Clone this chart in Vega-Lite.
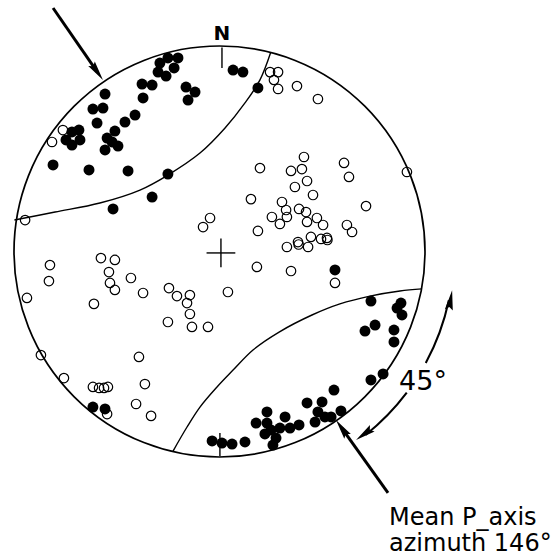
{
  "$schema": "https://vega.github.io/schema/vega-lite/v6.json",
  "autosize": "none",
  "width": 411,
  "height": 411,
  "padding": {"left": 14, "top": 46, "right": 133, "bottom": 101},
  "background": "white",
  "config": {"view": {"stroke": null}},
  "datasets": {
    "points": [
      {"u":-29.0,"v":91.7,"t":"P"},{"u":-25.1,"v":94.2,"t":"P"},{"u":-20.2,"v":94.2,"t":"P"},{"u":-22.1,"v":89.3,"t":"P"},{"u":-29.9,"v":87.3,"t":"P"},{"u":-26.0,"v":85.4,"t":"P"},
      {"u":6.6,"v":88.3,"t":"P"},{"u":11.4,"v":87.3,"t":"P"},{"u":18.7,"v":79.6,"t":"P"},{"u":-37.7,"v":81.5,"t":"P"},{"u":-32.8,"v":81.0,"t":"P"},{"u":-37.2,"v":74.7,"t":"P"},
      {"u":-16.3,"v":80.0,"t":"P"},{"u":-11.9,"v":77.6,"t":"P"},{"u":-15.3,"v":73.7,"t":"P"},{"u":-55.7,"v":76.6,"t":"P"},{"u":-61.6,"v":69.3,"t":"P"},{"u":-56.7,"v":69.8,"t":"P"},
      {"u":-59.6,"v":62.5,"t":"P"},{"u":-46.0,"v":63.0,"t":"P"},{"u":-41.1,"v":66.4,"t":"P"},{"u":-71.8,"v":58.2,"t":"P"},{"u":-68.4,"v":59.1,"t":"P"},{"u":-74.7,"v":54.3,"t":"P"},
      {"u":-67.9,"v":54.3,"t":"P"},{"u":-71.8,"v":51.8,"t":"P"},{"u":-50.9,"v":58.6,"t":"P"},{"u":-54.7,"v":55.2,"t":"P"},{"u":-52.3,"v":53.3,"t":"P"},{"u":-49.4,"v":51.3,"t":"P"},
      {"u":-55.7,"v":49.4,"t":"P"},{"u":-81.0,"v":42.1,"t":"P"},{"u":-63.5,"v":39.7,"t":"P"},{"u":-44.5,"v":39.2,"t":"P"},{"u":-25.1,"v":37.7,"t":"P"},{"u":-32.8,"v":26.5,"t":"P"},
      {"u":-51.8,"v":20.7,"t":"P"},{"u":56.2,"v":-9.0,"t":"P"},
      {"u":73.7,"v":-24.1,"t":"P"},{"u":88.3,"v":-25.1,"t":"P"},{"u":86.4,"v":-27.5,"t":"P"},{"u":88.8,"v":-30.9,"t":"P"},{"u":75.7,"v":-35.8,"t":"P"},{"u":70.8,"v":-38.7,"t":"P"},
      {"u":84.9,"v":-38.2,"t":"P"},{"u":84.9,"v":-44.0,"t":"P"},{"u":79.6,"v":-59.6,"t":"P"},{"u":73.7,"v":-62.5,"t":"P"},{"u":55.7,"v":-67.4,"t":"P"},{"u":42.6,"v":-73.7,"t":"P"},
      {"u":49.9,"v":-73.2,"t":"P"},{"u":47.9,"v":-78.1,"t":"P"},{"u":46.5,"v":-83.0,"t":"P"},{"u":51.3,"v":-80.5,"t":"P"},{"u":54.3,"v":-80.5,"t":"P"},{"u":59.1,"v":-77.6,"t":"P"},
      {"u":23.1,"v":-78.1,"t":"P"},{"u":17.8,"v":-83.5,"t":"P"},{"u":23.1,"v":-83.5,"t":"P"},{"u":22.1,"v":-88.8,"t":"P"},{"u":25.1,"v":-86.9,"t":"P"},{"u":27.5,"v":-90.8,"t":"P"},
      {"u":26.0,"v":-94.2,"t":"P"},{"u":29.4,"v":-85.9,"t":"P"},{"u":31.9,"v":-80.5,"t":"P"},{"u":34.3,"v":-85.9,"t":"P"},{"u":38.7,"v":-84.4,"t":"P"},{"u":-3.6,"v":-92.2,"t":"P"},
      {"u":1.2,"v":-93.2,"t":"P"},{"u":6.1,"v":-93.7,"t":"P"},{"u":12.4,"v":-92.7,"t":"P"},{"u":-61.6,"v":-75.7,"t":"P"},{"u":-55.7,"v":-76.6,"t":"P"},
      {"u":-81.5,"v":53.3,"t":"T"},{"u":-76.2,"v":59.1,"t":"T"},{"u":-94.6,"v":15.3,"t":"T"},{"u":24.6,"v":87.3,"t":"T"},{"u":28.5,"v":87.3,"t":"T"},{"u":26.5,"v":83.5,"t":"T"},
      {"u":28.5,"v":79.1,"t":"T"},{"u":37.7,"v":80.5,"t":"T"},{"u":47.9,"v":74.2,"t":"T"},{"u":91.2,"v":38.7,"t":"T"},
      {"u":19.7,"v":40.6,"t":"T"},{"u":34.8,"v":39.2,"t":"T"},{"u":40.1,"v":40.1,"t":"T"},{"u":41.1,"v":46.0,"t":"T"},{"u":42.6,"v":34.3,"t":"T"},{"u":36.7,"v":31.4,"t":"T"},
      {"u":45.5,"v":27.5,"t":"T"},{"u":60.6,"v":43.1,"t":"T"},{"u":63.0,"v":36.3,"t":"T"},{"u":15.3,"v":25.5,"t":"T"},{"u":30.4,"v":24.1,"t":"T"},{"u":32.4,"v":20.2,"t":"T"},
      {"u":38.7,"v":20.7,"t":"T"},{"u":42.1,"v":19.2,"t":"T"},{"u":25.5,"v":16.8,"t":"T"},{"u":32.8,"v":16.8,"t":"T"},{"u":29.4,"v":13.4,"t":"T"},{"u":42.6,"v":14.4,"t":"T"},
      {"u":47.4,"v":16.3,"t":"T"},{"u":50.4,"v":12.9,"t":"T"},{"u":18.7,"v":10.0,"t":"T"},{"u":62.0,"v":12.9,"t":"T"},{"u":64.5,"v":9.5,"t":"T"},{"u":71.3,"v":22.1,"t":"T"},
      {"u":44.5,"v":7.1,"t":"T"},{"u":49.4,"v":6.1,"t":"T"},{"u":52.3,"v":6.6,"t":"T"},{"u":52.5,"v":5.6,"t":"T"},{"u":38.2,"v":4.6,"t":"T"},{"u":38.5,"v":3.4,"t":"T"},
      {"u":32.8,"v":2.2,"t":"T"},{"u":43.1,"v":2.2,"t":"T"},{"u":18.2,"v":-7.5,"t":"T"},{"u":34.8,"v":-9.5,"t":"T"},{"u":56.2,"v":-15.3,"t":"T"},{"u":-4.6,"v":16.3,"t":"T"},
      {"u":-8.0,"v":11.9,"t":"T"},
      {"u":-82.5,"v":-6.6,"t":"T"},{"u":-83.0,"v":-14.4,"t":"T"},{"u":-93.7,"v":-22.6,"t":"T"},{"u":-57.7,"v":-3.2,"t":"T"},{"u":-50.9,"v":-4.1,"t":"T"},{"u":-53.8,"v":-10.0,"t":"T"},
      {"u":-53.3,"v":-15.3,"t":"T"},{"u":-50.9,"v":-18.7,"t":"T"},{"u":-43.1,"v":-12.9,"t":"T"},{"u":-61.1,"v":-25.5,"t":"T"},{"u":-37.2,"v":-20.2,"t":"T"},{"u":-24.6,"v":-17.8,"t":"T"},
      {"u":-20.7,"v":-21.7,"t":"T"},{"u":-14.4,"v":-21.2,"t":"T"},{"u":-15.8,"v":-25.1,"t":"T"},{"u":-14.4,"v":-30.4,"t":"T"},{"u":-25.1,"v":-34.3,"t":"T"},{"u":-13.4,"v":-36.7,"t":"T"},
      {"u":-5.6,"v":-36.7,"t":"T"},{"u":4.1,"v":-19.7,"t":"T"},
      {"u":-86.9,"v":-50.4,"t":"T"},{"u":-75.7,"v":-61.6,"t":"T"},{"u":-39.2,"v":-51.3,"t":"T"},{"u":-61.6,"v":-65.9,"t":"T"},{"u":-58.6,"v":-66.4,"t":"T"},{"u":-56.2,"v":-66.4,"t":"T"},
      {"u":-54.3,"v":-65.9,"t":"T"},{"u":-36.3,"v":-64.5,"t":"T"},{"u":-40.6,"v":-74.2,"t":"T"},{"u":-33.3,"v":-80.0,"t":"T"},{"u":-54.7,"v":-79.1,"t":"T"}
    ],
    "curves": [
      {"c":"a","i":0,"u":-99.8,"v":15.3},{"c":"a","i":1,"u":-80.0,"v":19.2},{"c":"a","i":2,"u":-58.2,"v":23.6},{"c":"a","i":3,"u":-38.7,"v":29.9},{"c":"a","i":4,"u":-25.1,"v":37.2},
      {"c":"a","i":5,"u":-9.5,"v":47.9},{"c":"a","i":6,"u":2.7,"v":60.1},{"c":"a","i":7,"u":12.4,"v":72.3},{"c":"a","i":8,"u":19.7,"v":83.5},{"c":"a","i":9,"u":24.9,"v":96.8},
      {"c":"b","i":0,"u":-22.6,"v":-97.1},{"c":"b","i":1,"u":-15.8,"v":-85.4},{"c":"b","i":2,"u":-9.5,"v":-75.7},{"c":"b","i":3,"u":-1.2,"v":-65.9},{"c":"b","i":4,"u":6.6,"v":-57.7},
      {"c":"b","i":5,"u":16.3,"v":-47.9},{"c":"b","i":6,"u":29.0,"v":-39.2},{"c":"b","i":7,"u":45.0,"v":-30.9},{"c":"b","i":8,"u":58.6,"v":-25.5},{"c":"b","i":9,"u":73.2,"v":-21.7},
      {"c":"b","i":10,"u":87.8,"v":-19.2},{"c":"b","i":11,"u":98.5,"v":-18.2}
    ],
    "segments": [
      {"k":"tick","u":1.2,"v":99.3,"u2":1.2,"v2":89.3},
      {"k":"tick","u":0.2,"v":-88.3,"u2":0.2,"v2":-99.6},
      {"k":"tick","u":-6.3,"v":-0.7,"u2":7.7,"v2":-0.7},
      {"k":"tick","u":0.7,"v":6.3,"u2":0.7,"v2":-7.7},
      {"k":"arrow","u":-81.0,"v":118.5,"u2":-59.5,"v2":87.4},
      {"k":"arrow","u":82.0,"v":-117.5,"u2":59.5,"v2":-86.0}
    ],
    "heads": [
      {"u":-59.5,"v":87.4,"bearing":145.2},
      {"u":59.5,"v":-86.0,"bearing":324.6},
      {"u":112.4,"v":-23.6,"bearing":9.4},
      {"u":70.4,"v":-88.9,"bearing":234.1}
    ],
    "arcs": [
      {"a1":102,"a2":118.4,"r1":114.6,"r2":113.6},
      {"a1":127,"a2":141.5,"r1":114.6,"r2":113.6}
    ],
    "labels": [
      {"g":"n","text":"N","u":1.2,"v":102.9},
      {"g":"deg","text":"45°","u":99.0,"v":-67.4},
      {"g":"note","text":"Mean P_axis","u":82.5,"v":-133.1},
      {"g":"note","text":"azimuth 146°","u":82.5,"v":-145.8}
    ],
    "frame": [{"u":0,"v":0}]
  },
  "layer": [
    {
      "data": {"name": "frame"},
      "mark": {"type": "point", "shape": "circle", "size": 168921, "filled": false, "stroke": "black", "strokeWidth": 1.7, "opacity": 1},
      "encoding": {
        "x": {"field": "u", "type": "quantitative", "scale": {"domain": [-100, 100], "nice": false, "zero": false}, "axis": null},
        "y": {"field": "v", "type": "quantitative", "scale": {"domain": [-100, 100], "nice": false, "zero": false}, "axis": null}
      }
    },
    {
      "data": {"name": "curves"},
      "mark": {"type": "line", "stroke": "black", "strokeWidth": 1.4, "interpolate": "catmull-rom"},
      "encoding": {
        "x": {"field": "u", "type": "quantitative"},
        "y": {"field": "v", "type": "quantitative"},
        "detail": {"field": "c"},
        "order": {"field": "i", "type": "quantitative"}
      }
    },
    {
      "data": {"name": "segments"},
      "transform": [{"filter": "datum.k == 'tick'"}],
      "mark": {"type": "rule", "stroke": "black", "strokeWidth": 1.4},
      "encoding": {
        "x": {"field": "u", "type": "quantitative"},
        "y": {"field": "v", "type": "quantitative"},
        "x2": {"field": "u2"},
        "y2": {"field": "v2"}
      }
    },
    {
      "data": {"name": "segments"},
      "transform": [{"filter": "datum.k == 'arrow'"}],
      "mark": {"type": "rule", "stroke": "black", "strokeWidth": 3},
      "encoding": {
        "x": {"field": "u", "type": "quantitative"},
        "y": {"field": "v", "type": "quantitative"},
        "x2": {"field": "u2"},
        "y2": {"field": "v2"}
      }
    },
    {
      "data": {"name": "arcs"},
      "mark": {"type": "arc", "fill": "black"},
      "encoding": {
        "theta": {"field": "a1", "type": "quantitative", "scale": {"domain": [0, 360], "range": [0, 6.283185307]}},
        "theta2": {"field": "a2"},
        "radius": {"field": "r1", "type": "quantitative", "scale": {"type": "linear", "domain": [0, 100], "range": [0, 205.5], "zero": true}},
        "radius2": {"field": "r2"}
      }
    },
    {
      "data": {"name": "heads"},
      "mark": {"type": "point", "shape": "M0,-1L0.4,1L0,0.7L-0.4,1Z", "size": 400, "filled": true, "fill": "black", "stroke": null, "opacity": 1},
      "encoding": {
        "x": {"field": "u", "type": "quantitative"},
        "y": {"field": "v", "type": "quantitative"},
        "angle": {"field": "bearing", "type": "quantitative", "scale": {"domain": [0, 360], "range": [0, 360]}}
      }
    },
    {
      "data": {"name": "points"},
      "transform": [{"filter": "datum.t == 'T'"}],
      "mark": {"type": "point", "shape": "circle", "size": 90, "filled": false, "stroke": "black", "strokeWidth": 1.2, "opacity": 1},
      "encoding": {
        "x": {"field": "u", "type": "quantitative"},
        "y": {"field": "v", "type": "quantitative"}
      }
    },
    {
      "data": {"name": "points"},
      "transform": [{"filter": "datum.t == 'P'"}],
      "mark": {"type": "point", "shape": "circle", "size": 120, "filled": true, "fill": "black", "stroke": null, "opacity": 1},
      "encoding": {
        "x": {"field": "u", "type": "quantitative"},
        "y": {"field": "v", "type": "quantitative"}
      }
    },
    {
      "data": {"name": "labels"},
      "transform": [{"filter": "datum.g == 'n'"}],
      "mark": {"type": "text", "font": "DejaVu Sans", "fontWeight": "bold", "fontSize": 20, "align": "center", "baseline": "alphabetic", "color": "black"},
      "encoding": {
        "x": {"field": "u", "type": "quantitative"},
        "y": {"field": "v", "type": "quantitative"},
        "text": {"field": "text"}
      }
    },
    {
      "data": {"name": "labels"},
      "transform": [{"filter": "datum.g == 'deg'"}],
      "mark": {"type": "text", "font": "DejaVu Sans", "fontSize": 27, "align": "center", "baseline": "alphabetic", "color": "black"},
      "encoding": {
        "x": {"field": "u", "type": "quantitative"},
        "y": {"field": "v", "type": "quantitative"},
        "text": {"field": "text"}
      }
    },
    {
      "data": {"name": "labels"},
      "transform": [{"filter": "datum.g == 'note'"}],
      "mark": {"type": "text", "font": "DejaVu Sans", "fontSize": 24, "align": "left", "baseline": "alphabetic", "color": "black"},
      "encoding": {
        "x": {"field": "u", "type": "quantitative"},
        "y": {"field": "v", "type": "quantitative"},
        "text": {"field": "text"}
      }
    }
  ]
}
